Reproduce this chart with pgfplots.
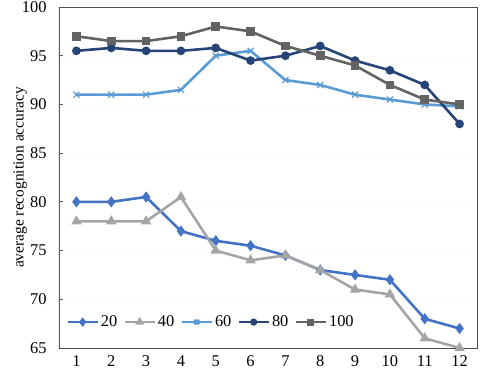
\documentclass[border=0pt]{standalone}
\usepackage{pgfplots}
\pgfplotsset{compat=1.18}
\usepackage{fontspec}
\setmainfont{Liberation Serif}

\definecolor{cA}{HTML}{4472C4}
\definecolor{cB}{HTML}{A5A5A5}
\definecolor{cC}{HTML}{5B9BD5}
\definecolor{cD}{HTML}{264478}
\definecolor{cE}{HTML}{636363}

\begin{document}
\begin{tikzpicture}
\path[use as bounding box] (-59bp,-28bp) rectangle (421bp,348bp);
\begin{axis}[
    scale only axis,
    width=418bp, height=341bp,
    xmin=0.5, xmax=12.5, ymin=65, ymax=100,
    xtick={1,...,12}, ytick={65,70,...,100},
    minor xtick={1.5,2.5,...,11.5},
    xtick style={draw=none}, ytick style={gray!70!black, line width=0.8bp},
    major tick length=4bp, minor tick length=5bp,
    tick align=inside, tick pos=left,
    axis line style={draw=gray!60!black, line width=0.6bp},
    minor tick style={gray!70!black, line width=0.8bp},
    ymajorgrids, grid style={gray!8, dotted},
    font=\fontsize{16.5}{19}\selectfont,
    /pgf/number format/assume math mode=true,
    xticklabel style={yshift=-4bp},
    yticklabel style={xshift=-9bp},
    ylabel={average recognition accuracy},
    ylabel style={yshift=-12bp, font=\fontsize{15.5}{18}\selectfont},
    every axis plot/.append style={line width=2.6bp},
    legend columns=5,
    legend style={draw=none, fill=none, at={(0.01,0.076)}, anchor=west,
        /tikz/every even column/.append style={column sep=4bp},
        font=\fontsize{16.5}{19}\selectfont},
    legend image code/.code={\draw[mark repeat=2,mark phase=2, mark options={scale=0.75}] plot coordinates {(0bp,0bp) (15bp,0bp) (30bp,0bp)};},
]
\addplot[cA, mark=diamond*, mark size=3.5bp] coordinates {
    (1,80)(2,80)(3,80.5)(4,77)(5,76)(6,75.5)(7,74.5)(8,73)(9,72.5)(10,72)(11,68)(12,67)};
\addplot[cB, mark=triangle*, mark size=3.5bp] coordinates {
    (1,78)(2,78)(3,78)(4,80.5)(5,75)(6,74)(7,74.5)(8,73)(9,71)(10,70.5)(11,66)(12,65)};
\addplot[cC, mark=x, mark size=4.3bp, mark options={line width=1.2bp}] coordinates {
    (1,91)(2,91)(3,91)(4,91.5)(5,95)(6,95.5)(7,92.5)(8,92)(9,91)(10,90.5)(11,90)(12,89.8)};
\addplot[cD, mark=*, mark size=3bp] coordinates {
    (1,95.5)(2,95.8)(3,95.5)(4,95.5)(5,95.8)(6,94.5)(7,95)(8,96)(9,94.5)(10,93.5)(11,92)(12,88)};
\addplot[cE, mark=square*, mark size=3bp] coordinates {
    (1,97)(2,96.5)(3,96.5)(4,97)(5,98)(6,97.5)(7,96)(8,95)(9,94)(10,92)(11,90.5)(12,90)};
\legend{20,40,60,80,100}
\draw[gray!70!black, line width=1.4bp] (rel axis cs:0,0) -- (rel axis cs:0,1);
\draw[gray!70!black, line width=1bp] (rel axis cs:0,0) -- (rel axis cs:1,0);
\end{axis}
\end{tikzpicture}
\end{document}
